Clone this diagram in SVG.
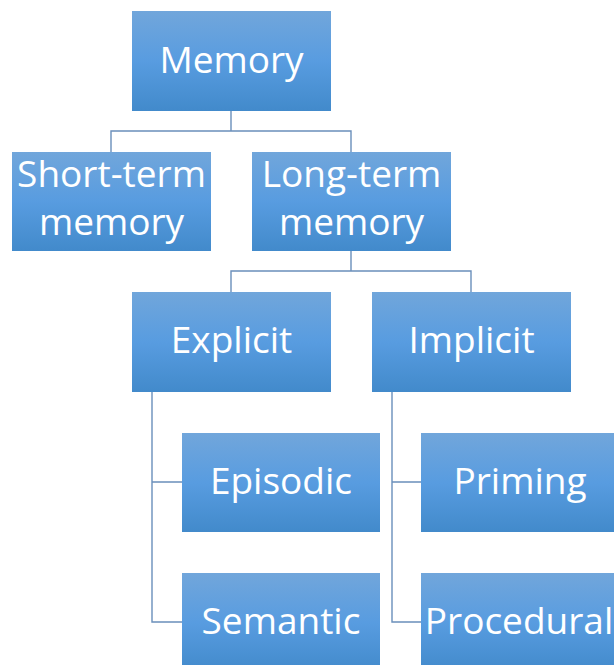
<svg xmlns="http://www.w3.org/2000/svg" width="614" height="665" viewBox="0 0 614 665">
<style>
.box{fill:url(#g)}
.t{font-family:"Open Sans",sans-serif;font-size:37px;fill:#fff;text-anchor:middle}
.c{fill:none;stroke:#6a8fbb;stroke-width:1.4}
</style>
<defs>
<linearGradient id="g" x1="0" y1="0" x2="0" y2="1">
<stop offset="0" stop-color="#71a6db"/>
<stop offset="0.5" stop-color="#589ce0"/>
<stop offset="1" stop-color="#428acb"/>
</linearGradient>
</defs>
<rect width="614" height="665" fill="#fff"/>
<g id="connectors">
<path class="c" d="M231,111V131M111,152V131H351V152"/>
<path class="c" d="M351,251V271M231,292V271H471V292"/>
<path class="c" d="M152,392V622H182M152,482H182"/>
<path class="c" d="M392,392V622H421M392,482H421"/>
</g>
<g id="memory"><rect class="box" x="132" y="11" width="199" height="100"/><text class="t" x="231.5" y="73">Memory</text></g>
<g id="short-term"><rect class="box" x="12" y="152" width="199" height="99"/><text class="t" x="111.5" y="187">Short-term</text><text class="t" x="111.5" y="235">memory</text></g>
<g id="long-term"><rect class="box" x="252" y="152" width="199" height="99"/><text class="t" x="351.5" y="187">Long-term</text><text class="t" x="351.5" y="235">memory</text></g>
<g id="explicit"><rect class="box" x="132" y="292" width="199" height="100"/><text class="t" x="231.5" y="353">Explicit</text></g>
<g id="implicit"><rect class="box" x="372" y="292" width="199" height="100"/><text class="t" x="471.5" y="353">Implicit</text></g>
<g id="episodic"><rect class="box" x="182" y="433" width="198" height="99"/><text class="t" x="281" y="494">Episodic</text></g>
<g id="semantic"><rect class="box" x="182" y="573" width="198" height="99"/><text class="t" x="281" y="634">Semantic</text></g>
<g id="priming"><rect class="box" x="421" y="433" width="199" height="99"/><text class="t" x="520" y="494">Priming</text></g>
<g id="procedural"><rect class="box" x="421" y="573" width="199" height="99"/><text class="t" x="519" y="634">Procedural</text></g>
</svg>
